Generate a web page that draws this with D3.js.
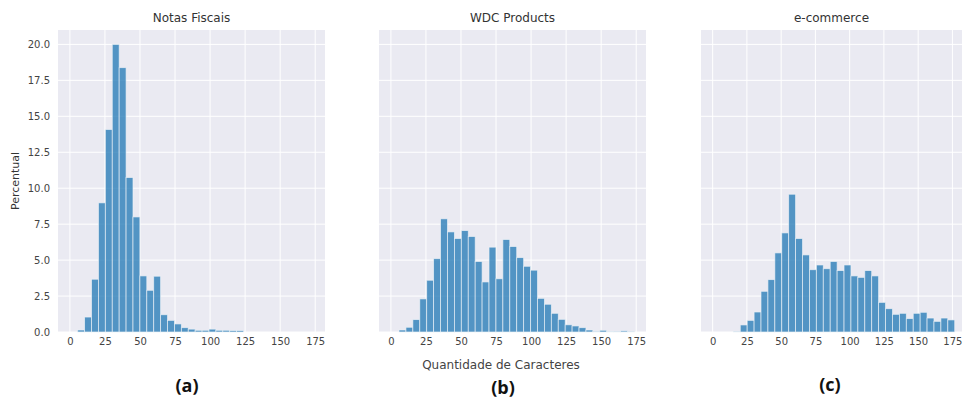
<!DOCTYPE html>
<html>
<head>
<meta charset="utf-8">
<script src="https://cdn.jsdelivr.net/npm/d3@7"></script>
<style>
  body { margin: 0; background: #fff; }
  text { font-family: "DejaVu Sans", sans-serif; }
</style>
</head>
<body>
<div id="plot"></div>
<script>
// histogram values (percent per bin)
const notasFiscais = [0.14, 1.04, 3.67, 8.98, 14.08, 20.0, 18.38, 10.74, 8.0, 3.9, 2.9, 3.88,
  1.2, 0.81, 0.56, 0.3, 0.2, 0.12, 0.12, 0.2, 0.12, 0.12, 0.1, 0.1];
const wdcProducts = [0.14, 0.33, 0.86, 2.3, 3.6, 5.1, 7.87, 6.96, 6.5, 7.05, 6.64, 4.9, 3.48,
  5.9, 3.7, 6.43, 5.94, 5.17, 4.57, 4.3, 2.34, 1.93, 1.3, 0.88, 0.5, 0.42, 0.3, 0.14, 0.05,
  0.12, 0.03, 0.02, 0.08, 0.02];
const ecommerce = [0.02, 0.49, 0.81, 1.39, 2.83, 3.64, 5.5, 6.89, 9.58, 6.5, 5.36, 4.33, 4.66,
  4.4, 4.9, 4.27, 4.66, 3.9, 3.8, 4.27, 3.9, 2.06, 1.62, 1.23, 1.3, 0.93, 1.3, 1.37, 0.97,
  0.74, 0.97, 0.84];

// first bin edge and bin width (characters)
const binStarts = [5.56, 5.78, 15.1];
const binWidths = [4.93, 4.94, 5.05];

const titles = ['Notas Fiscais', 'WDC Products', 'e-commerce'];
const letters = ['(a)', '(b)', '(c)'];
const xTicks = [0, 25, 50, 75, 100, 125, 150, 175];
const yTicks = [0, 2.5, 5, 7.5, 10, 12.5, 15, 17.5, 20];

const series = [notasFiscais, wdcProducts, ecommerce];

const width = 966, height = 399;
const plotTop = 30, plotBottom = 332;
const panelX = [[58, 325], [379, 646], [701, 962]];
const letterPos = [[187, 392], [503, 394], [830, 391]];

const svg = d3.select('#plot')
  .append('svg')
  .attr('width', width)
  .attr('height', height);

const y = d3.scaleLinear().domain([0, 21]).range([plotBottom, plotTop]);

series.forEach((values, p) => {
  const x = d3.scaleLinear().domain([-8.5, 182]).range(panelX[p]);
  const g = svg.append('g');

  g.append('rect')
    .attr('x', panelX[p][0])
    .attr('y', plotTop)
    .attr('width', panelX[p][1] - panelX[p][0])
    .attr('height', plotBottom - plotTop)
    .attr('fill', '#eaeaf2');

  // grid
  g.selectAll('.vgrid')
    .data(xTicks)
    .enter()
    .append('line')
    .attr('x1', (d) => x(d))
    .attr('x2', (d) => x(d))
    .attr('y1', plotTop)
    .attr('y2', plotBottom)
    .attr('stroke', '#fff')
    .attr('stroke-width', 1);
  g.selectAll('.hgrid')
    .data(yTicks)
    .enter()
    .append('line')
    .attr('x1', panelX[p][0])
    .attr('x2', panelX[p][1])
    .attr('y1', (d) => y(d))
    .attr('y2', (d) => y(d))
    .attr('stroke', '#fff')
    .attr('stroke-width', 1);

  // bars
  const start = binStarts[p], bw = binWidths[p];
  g.selectAll('.bar')
    .data(values)
    .enter()
    .append('rect')
    .attr('x', (d, i) => x(start + i * bw))
    .attr('y', (d) => y(d))
    .attr('width', (d, i) => x(start + (i + 1) * bw) - x(start + i * bw))
    .attr('height', (d) => y(0) - y(d))
    .attr('fill', '#1f77b4')
    .attr('fill-opacity', 0.75)
    .attr('stroke', '#eef2f8')
    .attr('stroke-opacity', 0.8)
    .attr('stroke-width', 0.8);

  // x axis
  const xAxis = g.append('g')
    .attr('transform', `translate(0,${plotBottom})`)
    .call(d3.axisBottom(x).tickValues(xTicks).tickSize(0).tickPadding(6));
  xAxis.select('.domain').remove();
  xAxis.selectAll('text')
    .attr('fill', '#444')
    .style('font-size', '10px')
    .style('font-family', 'DejaVu Sans');

  if (p === 0) {
    const yAxis = g.append('g')
      .attr('transform', `translate(${panelX[0][0]},0)`)
      .call(d3.axisLeft(y).tickValues(yTicks).tickFormat(d3.format('.1f')).tickSize(0).tickPadding(8));
    yAxis.select('.domain').remove();
    yAxis.selectAll('text')
      .attr('fill', '#444')
      .style('font-size', '10px')
      .style('font-family', 'DejaVu Sans');
  }

  g.append('text')
    .attr('x', (panelX[p][0] + panelX[p][1]) / 2)
    .attr('y', 22)
    .attr('text-anchor', 'middle')
    .attr('fill', '#333')
    .style('font-size', '12px')
    .text(titles[p]);

  g.append('text')
    .attr('x', letterPos[p][0])
    .attr('y', letterPos[p][1])
    .attr('text-anchor', 'middle')
    .attr('fill', '#111')
    .style('font-family', '"Open Sans", sans-serif')
    .style('font-weight', 'bold')
    .style('font-size', '18px')
    .text(letters[p]);
});

svg.append('text')
  .attr('transform', 'translate(19,181) rotate(-90)')
  .attr('text-anchor', 'middle')
  .attr('fill', '#333')
  .style('font-size', '11px')
  .text('Percentual');

svg.append('text')
  .attr('x', 501)
  .attr('y', 369)
  .attr('text-anchor', 'middle')
  .attr('fill', '#444')
  .style('font-size', '12px')
  .text('Quantidade de Caracteres');
</script>
</body>
</html>
